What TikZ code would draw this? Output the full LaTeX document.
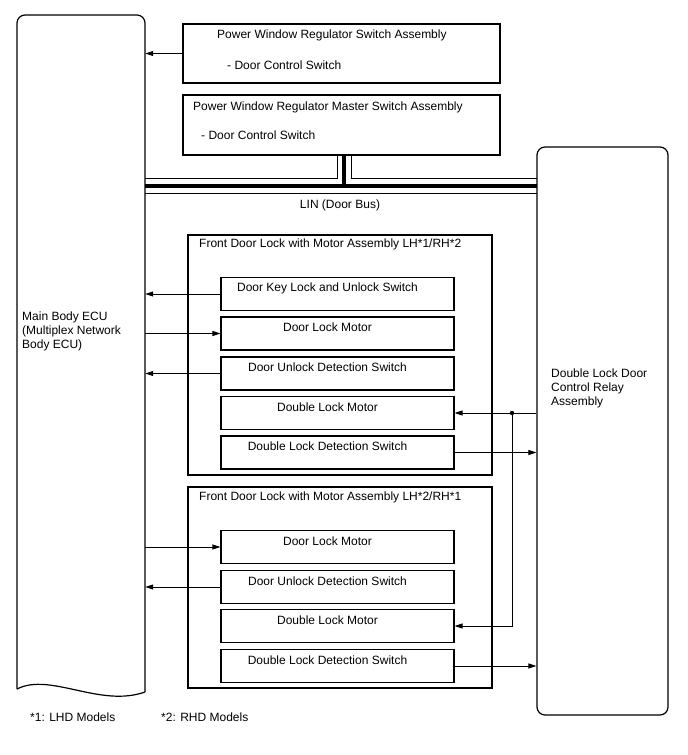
\documentclass[tikz,border=0pt]{standalone}
\usepackage{fontspec}
\setmainfont{Liberation Sans}
\usetikzlibrary{arrows.meta}
\begin{document}
\begin{tikzpicture}[x=1pt,y=-1pt,
  every node/.style={font=\fontsize{12}{14}\selectfont, inner sep=0pt},
  frame/.style={draw, line width=1.2pt},
  part/.style={frame, minimum width=233pt, minimum height=33pt},
  lbl/.style={anchor=west},
  arr/.style={line width=0.9pt, -{Triangle[length=8pt,width=5pt]}},
  wire/.style={line width=0.9pt},
  ]
\useasboundingbox[fill=white] (0,0) rectangle (688,755);

% Main Body ECU (document shape)
\node[minimum width=128pt, minimum height=675pt] (ecu) at (81,352) {};
\draw[line width=1.2pt, rounded corners=8pt] (17,689) -- (17,15) -- (145,15) -- (145,692);
\draw[line width=1.2pt] (17,689) .. controls (50,672) and (100,708) .. (145,692);
\node[anchor=north west, align=left] (ecut) at (22,312) {Main Body ECU\\(Multiplex Network\\Body ECU)};

% Relay
\node[frame, rounded corners=8pt, minimum width=131pt, minimum height=568pt] (relay) at (602.5,431) {};
\node[anchor=north west, align=left] (relayt) at (551,369) {Double Lock Door\\Control Relay\\Assembly};

% Top switch boxes
\node[frame, minimum width=317pt, minimum height=59pt] (psw) at (341.5,53.5) {};
\node[lbl] (pswa) at (217,35) {Power Window Regulator Switch Assembly};
\node[lbl] (pswb) at (227,65) {- Door Control Switch};
\node[frame, minimum width=317pt, minimum height=60pt] (msw) at (341.5,125) {};
\node[lbl] (mswa) at (193,107) {Power Window Regulator Master Switch Assembly};
\node[lbl] (mswb) at (201,135) {- Door Control Switch};
\draw[arr] (psw.west) -- (ecu.east |- psw.west);

% LIN bus
\draw[wire] (145,178) -- (337,178) -- (337,155);
\draw[wire] (537,178) -- (351,178) -- (351,155);
\draw[line width=3.2pt] (145,186) -- (537,186);
\draw[line width=3.2pt] (344,155) -- (344,186);
\draw[wire] (145,193) -- (537,193);
\node (lin) at (340,205) {LIN (Door Bus)};

% Front door lock LH*1/RH*2
\node[frame, minimum width=304pt, minimum height=240pt] (fd1) at (340,355) {};
\node[lbl] (fd1t) at (199,244) {Front Door Lock with Motor Assembly LH*1/RH*2};
\node[part] (a1) at (337.5,294) {};
\node[part] (a2) at (337.5,333.5) {};
\node[part] (a3) at (337.5,373.5) {};
\node[part] (a4) at (337.5,413) {};
\node[part] (a5) at (337.5,452.5) {};
\node (a1t) at ([xshift=-10pt,yshift=-11pt]a1.north) {Door Key Lock and Unlock Switch};
\node (a2t) at ([xshift=-10pt,yshift=-11pt]a2.north) {Door Lock Motor};
\node (a3t) at ([xshift=-10pt,yshift=-11pt]a3.north) {Door Unlock Detection Switch};
\node (a4t) at ([xshift=-10pt,yshift=-11pt]a4.north) {Double Lock Motor};
\node (a5t) at ([xshift=-10pt,yshift=-11pt]a5.north) {Double Lock Detection Switch};

% Front door lock LH*2/RH*1
\node[frame, minimum width=304pt, minimum height=201pt] (fd2) at (340,587.5) {};
\node[lbl] (fd2t) at (199,497) {Front Door Lock with Motor Assembly LH*2/RH*1};
\node[part] (b1) at (337.5,547) {};
\node[part] (b2) at (337.5,587) {};
\node[part] (b3) at (337.5,626) {};
\node[part] (b4) at (337.5,666) {};
\node (b1t) at ([xshift=-10pt,yshift=-11pt]b1.north) {Door Lock Motor};
\node (b2t) at ([xshift=-10pt,yshift=-11pt]b2.north) {Door Unlock Detection Switch};
\node (b3t) at ([xshift=-10pt,yshift=-11pt]b3.north) {Double Lock Motor};
\node (b4t) at ([xshift=-10pt,yshift=-11pt]b4.north) {Double Lock Detection Switch};

% Connections to ECU
\draw[arr] (a1.west) -- (ecu.east |- a1.west);
\draw[arr] (ecu.east |- a2.west) -- (a2.west);
\draw[arr] (a3.west) -- (ecu.east |- a3.west);
\draw[arr] (ecu.east |- b1.west) -- (b1.west);
\draw[arr] (b2.west) -- (ecu.east |- b2.west);

% Connections to relay
\coordinate (j) at (512,413);
\draw[arr] (relay.west |- a4.east) -- (a4.east);
\draw[arr] (j) -- (j |- b3.east) -- (b3.east);
\fill (j) circle (2.2pt);
\draw[arr] (a5.east) -- (relay.west |- a5.east);
\draw[arr] (b4.east) -- (relay.west |- b4.east);

% Footnotes
\node[lbl] (n1) at (30,717) {*1: LHD Models};
\node[lbl] (n2) at (161,717) {*2: RHD Models};
\end{tikzpicture}
\end{document}
